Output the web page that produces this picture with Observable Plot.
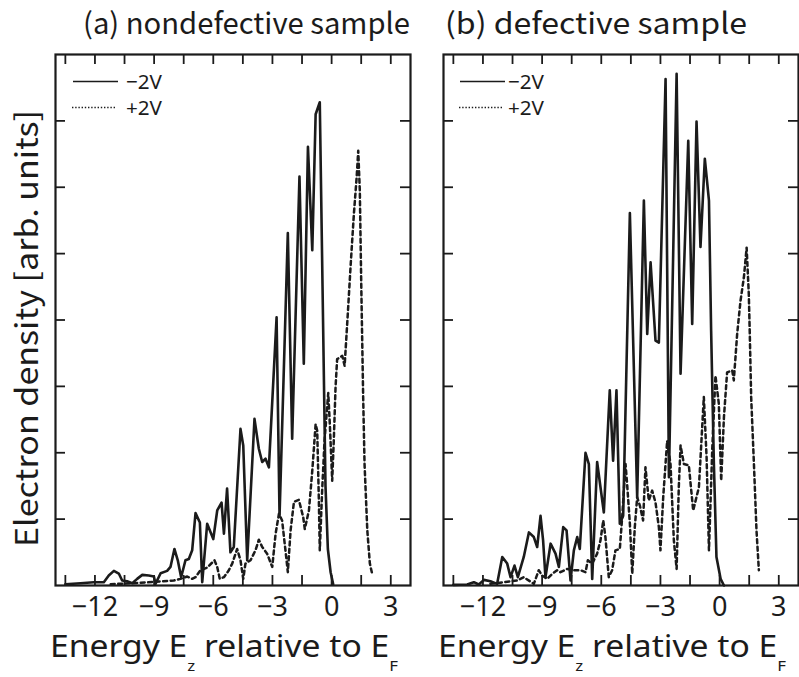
<!DOCTYPE html>
<html><head><meta charset="utf-8">
<script src="https://cdn.jsdelivr.net/npm/d3@7"></script>
<script src="https://cdn.jsdelivr.net/npm/@observablehq/plot@0.6"></script>
<style>
body{margin:0;background:#fff;}
#wrap{position:relative;width:799px;height:677px;overflow:hidden;background:#fff;}
#wrap > svg{position:absolute;top:0;}
</style></head><body><div id="wrap"></div>
<script>
// ---------- data ----------
// panel (a) nondefective, -2V (solid)
const aNegE = [-13.5,-12.73,-12.06,-11.55,-11.3,-11.04,-10.79,-10.62,-10.37,-10.11,-9.86,-9.6,-9.27,-9.01,-8.93,-8.67,-8.34,-8.17,-7.97,-7.8,-7.63,-7.41,-7.24,-7.07,-6.9,-6.68,-6.56,-6.31,-6.0,-5.8,-5.58,-5.46,-5.3,-5.13,-4.96,-4.62,-4.48,-4.28,-3.91,-3.69,-3.52,-3.35,-3.18,-2.79,-2.64,-2.22,-2.0,-1.63,-1.41,-1.2,-0.98,-0.81,-0.6,-0.46,-0.31,-0.19,-0.05,0.08];
const aNegV = [0.02,0.035,0.05,0.05,0.15,0.22,0.18,0.075,0.065,0.035,0.1,0.16,0.15,0.135,0.025,0.185,0.22,0.28,0.55,0.38,0.125,0.38,0.4,0.53,1.09,0.95,0.05,0.93,0.7,1.13,1.25,0.78,1.46,0.5,0.58,2.36,2.11,0.38,2.51,2.06,1.86,1.91,1.78,4.04,1.05,5.31,2.21,6.16,3.34,6.61,5.05,7.10,7.28,4.5,1.5,0.55,0.2,0.02];
// panel (a) nondefective, +2V (dashed)
const aPosE = [-11.2,-9.69,-8.0,-7.66,-7.32,-7.07,-6.9,-6.65,-6.31,-5.94,-5.8,-5.67,-5.46,-5.21,-5.04,-4.79,-4.62,-4.48,-4.37,-4.11,-3.86,-3.69,-3.52,-3.27,-3.01,-2.84,-2.67,-2.51,-2.34,-2.22,-2.08,-1.91,-1.66,-1.44,-1.36,-1.15,-0.98,-0.81,-0.73,-0.65,-0.6,-0.48,-0.36,-0.17,-0.09,0.03,0.11,0.2,0.28,0.54,0.66,0.82,0.96,1.13,1.27,1.35,1.43,1.5,1.6,1.67,1.81,1.94,2.06];
const aPosV = [0.02,0.04,0.075,0.1,0.135,0.1,0.125,0.23,0.27,0.38,0.28,0.1,0.125,0.23,0.33,0.55,0.38,0.1,0.33,0.38,0.53,0.69,0.58,0.48,0.28,0.78,1.08,0.98,0.53,0.2,0.83,1.26,1.29,1.03,0.85,1.13,1.73,2.43,2.33,1.33,0.53,1.43,2.18,2.9,2.43,1.58,2.18,2.99,3.41,3.46,3.31,4.09,4.8,5.6,6.15,6.55,5.95,4.59,2.84,1.83,0.83,0.33,0.17];
// panel (b) defective, -2V (solid)
const bNegE = [-13.5,-12.8,-12.46,-12.21,-11.95,-11.62,-11.28,-11.02,-10.77,-10.6,-10.4,-10.23,-9.93,-9.67,-9.42,-9.25,-9.08,-8.95,-8.83,-8.57,-8.32,-8.15,-7.93,-7.76,-7.56,-7.39,-7.22,-7.09,-6.8,-6.63,-6.46,-6.21,-5.87,-5.57,-5.4,-5.23,-5.06,-4.89,-4.55,-4.18,-3.84,-3.67,-3.5,-3.25,-3.08,-2.74,-2.57,-2.18,-1.98,-1.59,-1.39,-1.17,-0.97,-0.75,-0.54,-0.43,-0.29,-0.16,0.05,0.22];
const bNegV = [0.01,0.015,0.05,0.015,0.085,0.065,0.025,0.43,0.33,0.125,0.3,0.125,0.43,0.8,0.73,0.58,1.05,0.68,0.125,0.63,0.48,0.28,0.88,0.83,0.075,0.53,0.73,0.55,2.0,1.83,0.1,1.86,1.1,2.94,1.88,2.94,0.93,1.05,5.61,1.33,5.8,3.79,4.87,3.69,3.66,7.63,1.63,7.71,3.19,6.7,3.94,6.99,5.1,6.43,5.8,3.84,1.83,0.43,0.1,0.0];
// panel (b) defective, +2V (dashed)
const bPosE = [-11.62,-10.94,-10.26,-9.93,-9.42,-9.17,-9.0,-8.74,-8.49,-8.24,-8.07,-7.73,-7.39,-7.05,-6.8,-6.68,-6.46,-6.21,-6.04,-5.9,-5.79,-5.62,-5.45,-5.28,-5.06,-4.94,-4.77,-4.69,-4.55,-4.43,-4.3,-4.18,-4.04,-3.88,-3.76,-3.59,-3.42,-3.25,-3.08,-3.0,-2.86,-2.66,-2.49,-2.32,-2.18,-2.07,-1.98,-1.81,-1.56,-1.34,-1.05,-0.8,-0.66,-0.54,-0.37,-0.21,-0.04,0.08,0.22,0.38,0.64,0.72,0.89,1.06,1.23,1.37,1.48,1.53,1.6,1.74,1.87,1.99];
const bPosV = [0.025,0.05,0.075,0.125,0.025,0.23,0.15,0.1,0.175,0.23,0.2,0.25,0.23,0.23,0.2,0.38,0.33,0.48,0.68,0.98,0.73,0.125,0.23,0.53,0.55,1.03,1.83,1.53,0.93,0.175,0.88,1.33,1.2,0.98,1.78,1.28,1.43,1.25,0.88,0.53,1.33,2.18,1.83,0.68,0.25,1.48,2.11,1.83,1.81,1.13,1.48,2.84,1.93,0.53,2.08,3.16,2.74,1.58,2.54,3.21,3.24,3.09,3.79,4.29,4.64,5.09,4.39,3.79,2.84,1.83,0.83,0.23];

const xDomain = [-14, 4];
const yDomain = [0, 8];
const xTickLabels = [-12, -9, -6, -3, 0, 3];
const xMinorTicks = [-13.5, -12, -10.5, -9, -7.5, -6, -4.5, -3, -1.5, 0, 1.5, 3];
const yTicks = [1, 2, 3, 4, 5, 6, 7];
const panelTitles = ["(a) nondefective sample", "(b) defective sample"];
const seriesNames = ["\u22122V", "+2V"];
const yTitle = "Electron density [arb. units]";
const xTitleParts = ["Energy E", "z", " relative to E", "F"];

// ---------- drawing ----------
const INK = "#1b1b1b";
const fmt = d => d < 0 ? "\u2212" + Math.abs(d) : String(d);

function panel(negE, negV, posE, posV, width, marginRight) {
  const neg = negE.map((e, i) => ({E: e, v: negV[i]}));
  const pos = posE.map((e, i) => ({E: e, v: posV[i]}));
  const plotH = 677 - 54 - 92;
  const plotW = width - 55 - marginRight;
  return Plot.plot({
    width, height: 677,
    marginLeft: 55, marginRight, marginTop: 54, marginBottom: 92,
    x: {domain: xDomain},
    y: {domain: yDomain, axis: null},
    style: {background: "transparent", color: INK, fontFamily: "'Liberation Sans Narrow', 'Noto Sans', sans-serif"},
    marks: [
      Plot.line(pos, {x: "E", y: "v", stroke: INK, strokeWidth: 2.5, strokeDasharray: "4,3.5"}),
      Plot.line(neg, {x: "E", y: "v", stroke: INK, strokeWidth: 2.6}),
      Plot.tickX(xMinorTicks, {stroke: INK, strokeWidth: 1.8, insetTop: plotH - 10}),
      Plot.tickX(xMinorTicks, {stroke: INK, strokeWidth: 1.8, insetBottom: plotH - 10}),
      Plot.tickY(yTicks, {stroke: INK, strokeWidth: 1.8, insetRight: plotW - 10}),
      Plot.tickY(yTicks, {stroke: INK, strokeWidth: 1.8, insetLeft: plotW - 10}),
      Plot.axisX(xTickLabels, {tickSize: 0, tickPadding: 11, fontSize: 27, label: null, tickFormat: fmt,
        fontFamily: "'Liberation Sans Narrow', 'Noto Sans', sans-serif"}),
      Plot.frame({stroke: INK, strokeWidth: 2.2})
    ]
  });
}

const wrap = document.getElementById("wrap");
const pa = panel(aNegE, aNegV, aPosE, aPosV, 420, 10);
pa.style.left = "0px";
wrap.appendChild(pa);
const pb = panel(bNegE, bNegV, bPosE, bPosV, 411, 1);
pb.style.left = "388px";
wrap.appendChild(pb);

// overlay: titles, axis titles, legends
const ov = d3.create("svg").attr("width", 799).attr("height", 677)
  .style("left", "0px").style("pointer-events", "none");
const TF = "'Noto Sans CJK JP', 'Noto Sans', sans-serif";
const XF = "'Noto Sans', sans-serif";

[[83, 327], [445, 302]].forEach(([x, len], i) => {
  ov.append("text").attr("x", x).attr("y", 34).attr("font-family", TF).attr("font-size", 29)
    .attr("fill", INK).attr("textLength", len).attr("lengthAdjust", "spacingAndGlyphs").text(panelTitles[i]);
});

ov.append("text").attr("transform", "translate(38,328.5) rotate(-90)").attr("text-anchor", "middle")
  .attr("font-family", TF).attr("font-size", 31).attr("fill", INK)
  .attr("textLength", 437).attr("lengthAdjust", "spacingAndGlyphs").text(yTitle);

[50, 438].forEach(x0 => {
  const t = ov.append("text").attr("x", x0).attr("y", 657).attr("font-family", XF).attr("font-size", 30)
    .attr("fill", INK).style("white-space", "pre")
    .attr("textLength", 348).attr("lengthAdjust", "spacingAndGlyphs");
  t.append("tspan").text(xTitleParts[0]);
  t.append("tspan").attr("font-size", 15).attr("dy", 14).text(xTitleParts[1]);
  t.append("tspan").attr("dy", -14).text(xTitleParts[2]);
  t.append("tspan").attr("font-size", 15).attr("dy", 14).text(xTitleParts[3]);
});

[[73, 126], [460, 508]].forEach(([lx, tx]) => {
  ov.append("line").attr("x1", lx).attr("x2", lx + 45).attr("y1", 81.5).attr("y2", 81.5)
    .attr("stroke", INK).attr("stroke-width", 1.5);
  ov.append("line").attr("x1", lx - 1).attr("x2", lx + 43).attr("y1", 107.5).attr("y2", 107.5)
    .attr("stroke", INK).attr("stroke-width", 1.3).attr("stroke-dasharray", "1.4,1.8");
  ov.append("text").attr("x", tx).attr("y", 88.5).attr("font-family", "'Noto Sans', sans-serif")
    .attr("font-size", 20).attr("fill", INK).attr("textLength", 36).attr("lengthAdjust", "spacingAndGlyphs").text(seriesNames[0]);
  ov.append("text").attr("x", tx).attr("y", 114.5).attr("font-family", "'Noto Sans', sans-serif")
    .attr("font-size", 20).attr("fill", INK).attr("textLength", 36).attr("lengthAdjust", "spacingAndGlyphs").text(seriesNames[1]);
});

wrap.appendChild(ov.node());
</script>
</body></html>
